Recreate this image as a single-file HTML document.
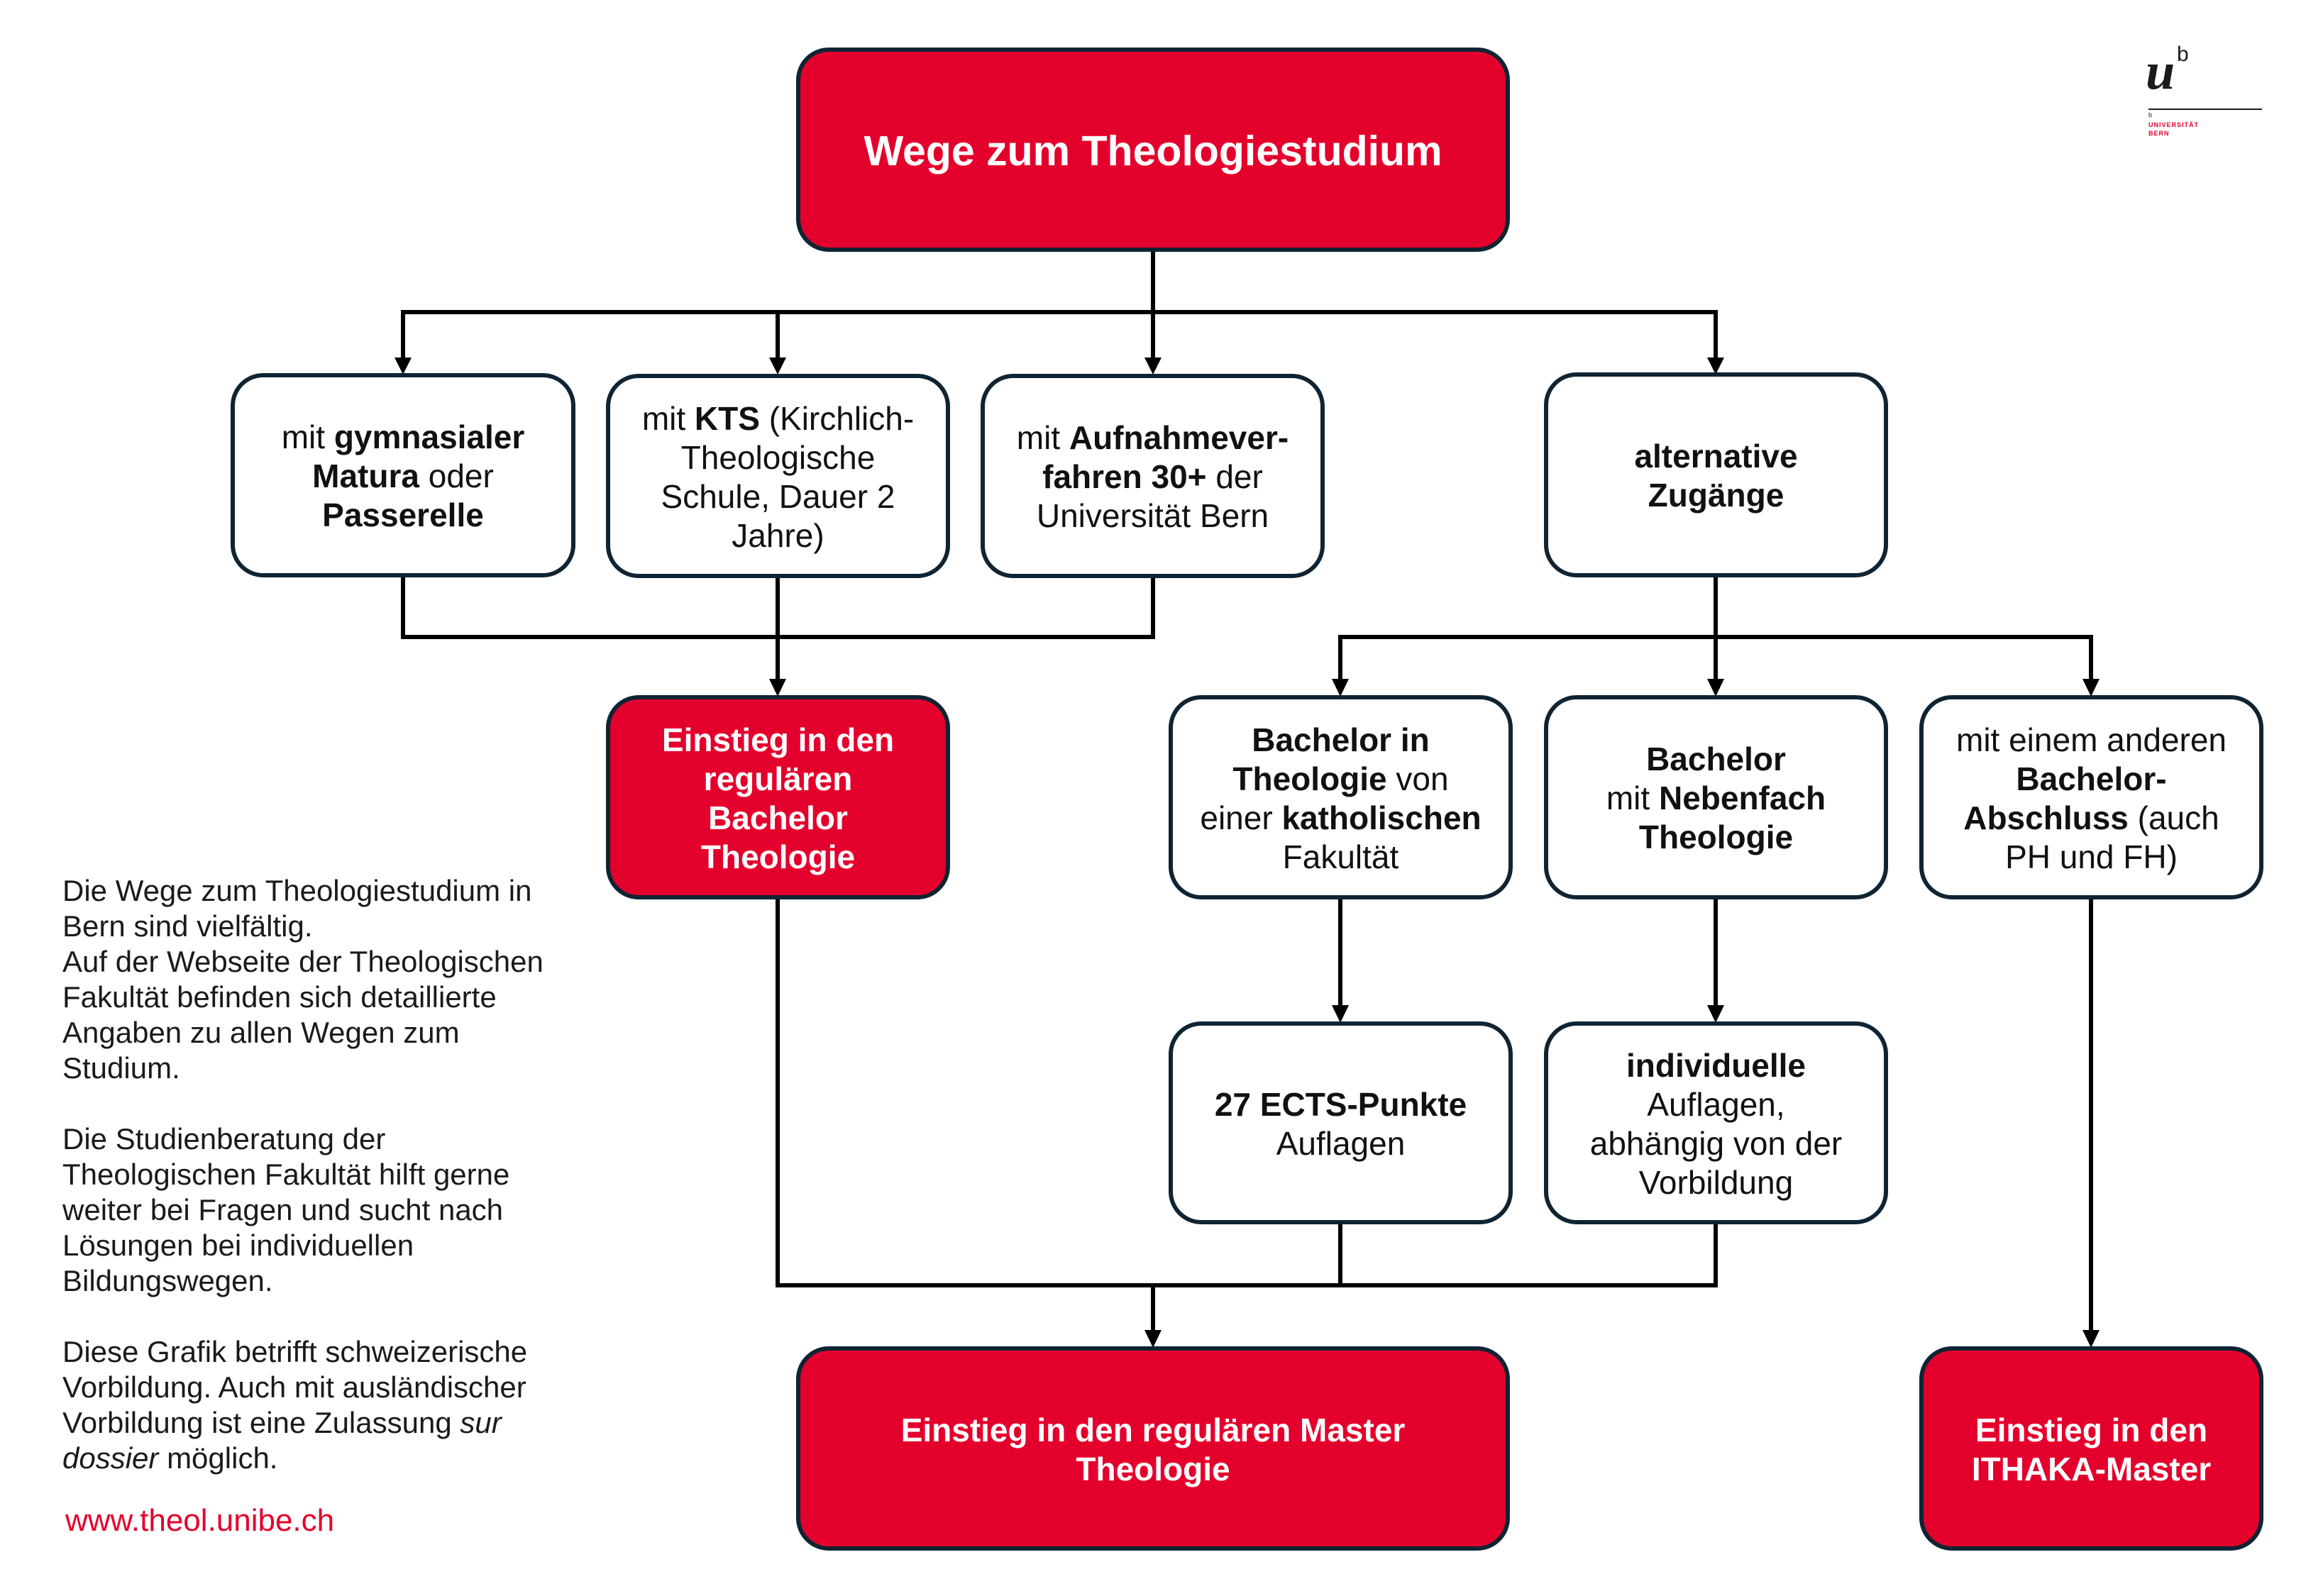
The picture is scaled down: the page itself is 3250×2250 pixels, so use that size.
<!DOCTYPE html>
<html>
<head>
<meta charset="utf-8">
<style>
  html, body { margin:0; padding:0; }
  body { width:3250px; height:2250px; background:#fff; position:relative; overflow:hidden; font-family:"Liberation Sans", sans-serif; }
  .box { position:absolute; box-sizing:border-box; border:6px solid #0f2433; border-radius:46px; background:#fff;
         display:flex; align-items:center; justify-content:center; text-align:center; padding-top:3px;
         font-size:46px; line-height:55px; color:#111; white-space:nowrap; }
  .red { background:#e4002c; color:#fff; font-weight:bold; }
  b { font-weight:bold; }
  .side { position:absolute; left:88px; top:1231px; font-size:42px; line-height:50px; color:#1a1a1a; white-space:nowrap; }
  .url { position:absolute; left:92px; top:2119px; font-size:44px; line-height:50px; color:#e4002c; white-space:nowrap; }
  svg { position:absolute; left:0; top:0; }
</style>
</head>
<body>

<svg width="3250" height="2250" viewBox="0 0 3250 2250">
  <g stroke="#000" stroke-width="6" fill="none" stroke-linecap="square" stroke-linejoin="miter">
    <path d="M1625 355 V440"/>
    <path d="M568 440 H2418"/>
    <path d="M568 440 V505"/>
    <path d="M1096 440 V505"/>
    <path d="M1625 440 V505"/>
    <path d="M2418 440 V505"/>
    <path d="M568 814 V898 H1625 V814"/>
    <path d="M1096 814 V958"/>
    <path d="M2418 814 V898"/>
    <path d="M1889 898 H2947"/>
    <path d="M1889 898 V958"/>
    <path d="M2418 898 V958"/>
    <path d="M2947 898 V958"/>
    <path d="M1889 1268 V1418"/>
    <path d="M2418 1268 V1418"/>
    <path d="M1096 1268 V1812 H2418 V1726"/>
    <path d="M1889 1726 V1812"/>
    <path d="M1625 1812 V1876"/>
    <path d="M2947 1268 V1876"/>
  </g>
  <g fill="#000">
    <polygon points="556,504 580,504 568,528"/>
    <polygon points="1084,504 1108,504 1096,528"/>
    <polygon points="1613,504 1637,504 1625,528"/>
    <polygon points="2406,504 2430,504 2418,528"/>
    <polygon points="1084,957 1108,957 1096,982"/>
    <polygon points="1877,957 1901,957 1889,982"/>
    <polygon points="2406,957 2430,957 2418,982"/>
    <polygon points="2935,957 2959,957 2947,982"/>
    <polygon points="1877,1417 1901,1417 1889,1442"/>
    <polygon points="2406,1417 2430,1417 2418,1442"/>
    <polygon points="1613,1875 1637,1875 1625,1900"/>
    <polygon points="2935,1875 2959,1875 2947,1900"/>
  </g>
</svg>

<div class="box red" style="left:1122px; top:67px; width:1006px; height:288px; font-size:59px; line-height:70px;">Wege zum Theologiestudium</div>

<div class="box" style="left:325px; top:526px; width:486px; height:288px;">
  <div>mit <b>gymnasialer</b><br><b>Matura</b> oder<br><b>Passerelle</b></div>
</div>
<div class="box" style="left:854px; top:527px; width:485px; height:288px;">
  <div>mit <b>KTS</b> (Kirchlich-<br>Theologische<br>Schule, Dauer 2<br>Jahre)</div>
</div>
<div class="box" style="left:1382px; top:527px; width:485px; height:288px;">
  <div>mit <b>Aufnahmever-</b><br><b>fahren 30+</b> der<br>Universität Bern</div>
</div>
<div class="box" style="left:2176px; top:525px; width:485px; height:289px;">
  <div><b>alternative</b><br><b>Zugänge</b></div>
</div>

<div class="box red" style="left:854px; top:980px; width:485px; height:288px;">
  <div>Einstieg in den<br>regulären<br>Bachelor<br>Theologie</div>
</div>
<div class="box" style="left:1647px; top:980px; width:485px; height:288px;">
  <div><b>Bachelor in</b><br><b>Theologie</b> von<br>einer <b>katholischen</b><br>Fakultät</div>
</div>
<div class="box" style="left:2176px; top:980px; width:485px; height:288px;">
  <div><b>Bachelor</b><br>mit <b>Nebenfach</b><br><b>Theologie</b></div>
</div>
<div class="box" style="left:2705px; top:980px; width:485px; height:288px;">
  <div>mit einem anderen<br><b>Bachelor-</b><br><b>Abschluss</b> (auch<br>PH und FH)</div>
</div>

<div class="box" style="left:1647px; top:1440px; width:485px; height:286px;">
  <div><b>27 ECTS-Punkte</b><br>Auflagen</div>
</div>
<div class="box" style="left:2176px; top:1440px; width:485px; height:286px;">
  <div><b>individuelle</b><br>Auflagen,<br>abhängig von der<br>Vorbildung</div>
</div>

<div class="box red" style="left:1122px; top:1898px; width:1006px; height:288px;">
  <div>Einstieg in den regulären Master<br>Theologie</div>
</div>
<div class="box red" style="left:2705px; top:1898px; width:485px; height:288px;">
  <div>Einstieg in den<br>ITHAKA-Master</div>
</div>

<div class="side">Die Wege zum Theologiestudium in<br>Bern sind vielfältig.<br>Auf der Webseite der Theologischen<br>Fakultät befinden sich detaillierte<br>Angaben zu allen Wegen zum<br>Studium.<br><br>Die Studienberatung der<br>Theologischen Fakultät hilft gerne<br>weiter bei Fragen und sucht nach<br>Lösungen bei individuellen<br>Bildungswegen.<br><br>Diese Grafik betrifft schweizerische<br>Vorbildung. Auch mit ausländischer<br>Vorbildung ist eine Zulassung <i>sur</i><br><i>dossier</i> möglich.</div>
<div class="url">www.theol.unibe.ch</div>

<div style="position:absolute; left:3024px; top:64px; font-family:'Liberation Serif', serif; font-weight:bold; font-style:italic; font-size:74px; line-height:74px; color:#1a1a1a;">u</div>
<div style="position:absolute; left:3068px; top:62px; font-family:'Liberation Sans', sans-serif; font-size:30px; line-height:30px; color:#1a1a1a;">b</div>
<div style="position:absolute; left:3028px; top:153px; width:160px; height:2px; background:#1a1a1a;"></div>
<div style="position:absolute; left:3028px; top:158px; font-family:'Liberation Sans', sans-serif; font-size:9px; line-height:9px; color:#1a1a1a;">b</div>
<div style="position:absolute; left:3028px; top:170px; font-family:'Liberation Sans', sans-serif; font-weight:bold; font-size:9px; line-height:12px; letter-spacing:1px; color:#e4002c; white-space:nowrap;">UNIVERSITÄT<br>BERN</div>

</body>
</html>
